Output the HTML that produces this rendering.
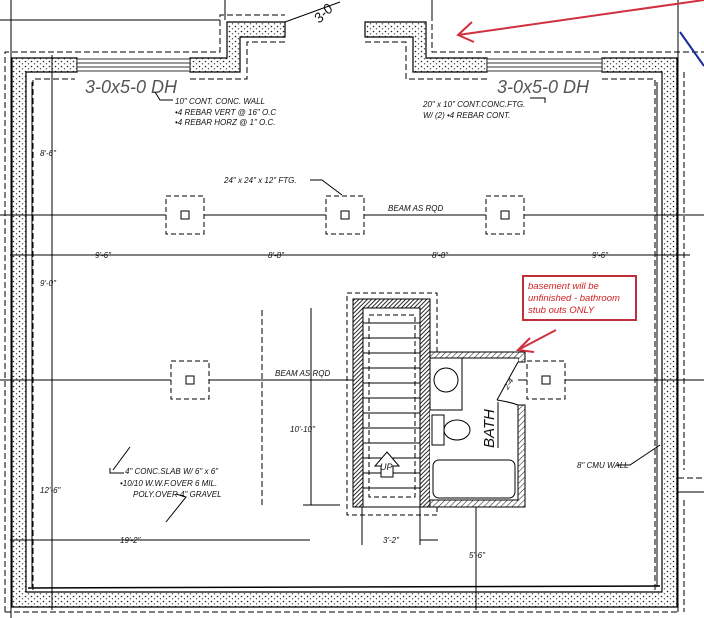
<!DOCTYPE html>
<html><head><style>body{margin:0;background:#fff}svg{display:block}text{font-family:"Liberation Sans",sans-serif;font-style:italic;fill:#111}</style></head>
<body>
<svg width="704" height="618" viewBox="0 0 704 618" xmlns="http://www.w3.org/2000/svg">
<defs>
<pattern id="dots" width="6" height="5" patternUnits="userSpaceOnUse"><rect width="6" height="5" fill="#fff"/><circle cx="1.5" cy="1.5" r="0.8" fill="#222"/><circle cx="4.5" cy="3.8" r="0.7" fill="#444"/></pattern>
<pattern id="hatch" width="3" height="3" patternUnits="userSpaceOnUse" patternTransform="rotate(45)"><rect width="3" height="3" fill="#fff"/><line x1="0" y1="0" x2="0" y2="3" stroke="#111" stroke-width="1.8"/></pattern>
<pattern id="hatch2" width="4" height="4" patternUnits="userSpaceOnUse" patternTransform="rotate(45)"><rect width="4" height="4" fill="#fff"/><line x1="0" y1="0" x2="0" y2="4" stroke="#333" stroke-width="1.2"/></pattern>
</defs>
<g fill="none" stroke="#000" stroke-width="1">
<line x1="11" y1="0" x2="11" y2="618"/>
<line x1="0" y1="20" x2="220" y2="20"/>
<line x1="225" y1="0" x2="225" y2="20"/>
<line x1="678" y1="0" x2="678" y2="612"/>
<line x1="432" y1="0" x2="432" y2="15"/>
<g stroke-dasharray="6,3">
<polyline points="5,612 5,52 220,52 220,15 285,15"/>
<polyline points="432,15 432,52 704,52"/>
<line x1="5" y1="612" x2="678" y2="612"/>
<line x1="684" y1="72" x2="684" y2="470"/>
<line x1="678" y1="478" x2="704" y2="478"/>
<line x1="684" y1="500" x2="684" y2="612"/>
<polyline points="33,590 33,79 75,79"/>
<polyline points="190,79 247,79 247,42 285,42"/>
<polyline points="365,42 406,42 406,79 487,79"/>
<polyline points="602,79 655,79 655,590"/>
</g>
<line x1="678" y1="492" x2="704" y2="492"/>
</g>
<g fill="url(#dots)" stroke="#000" stroke-width="1.2">
<path d="M12,58 H77 V72 H26 V592 H662 V72 H602 V58 H677 V607 H12 Z"/>
<path d="M190,58 H227 V22 H285 V37 H240 V72 H190 Z"/>
<path d="M365,22 H426 V58 H487 V72 H413 V37 H365 Z"/>
</g>
<g stroke="#333" fill="#fff"><rect x="77" y="59" width="113" height="12"/><line x1="77" y1="63" x2="190" y2="63"/><line x1="77" y1="67" x2="190" y2="67"/>
<rect x="487" y="59" width="115" height="12"/><line x1="487" y1="63" x2="602" y2="63"/><line x1="487" y1="67" x2="602" y2="67"/></g>
<line x1="285" y1="22" x2="340" y2="2" stroke="#000"/>
<text x="312" y="22" font-size="14" font-style="normal" fill="#444" transform="rotate(-45 318 14)">3-0</text>
<line x1="28" y1="588" x2="660" y2="586" stroke="#000" stroke-width="1.5"/>
<line x1="32" y1="82" x2="32" y2="587" stroke="#000"/>
<line x1="657" y1="82" x2="657" y2="587" stroke="#000"/>
<g stroke="#000" fill="none">
<line x1="0" y1="215" x2="704" y2="215"/>
<line x1="0" y1="380" x2="704" y2="380"/>
<line x1="10" y1="255" x2="690" y2="255"/>
<line x1="52" y1="55" x2="52" y2="610"/>
<line x1="10" y1="540" x2="310" y2="540"/>
<line x1="420" y1="540" x2="438" y2="540"/>
<line x1="311" y1="308" x2="311" y2="505"/>
<line x1="303" y1="505" x2="340" y2="505"/>
<line x1="476" y1="507" x2="476" y2="610"/>
<line x1="362" y1="507" x2="362" y2="545"/>
<line x1="420" y1="507" x2="420" y2="545"/>
<line x1="262" y1="310" x2="262" y2="505" stroke-dasharray="6,3"/>
</g>
<g fill="#fff" stroke="#000" stroke-dasharray="5,3">
<rect x="166" y="196" width="38" height="38"/><rect x="326" y="196" width="38" height="38"/><rect x="486" y="196" width="38" height="38"/>
<rect x="171" y="361" width="38" height="38"/><rect x="527" y="361" width="38" height="38"/>
</g>
<g fill="#fff" stroke="#000"><rect x="181" y="211" width="8" height="8"/><rect x="341" y="211" width="8" height="8"/><rect x="501" y="211" width="8" height="8"/><rect x="186" y="376" width="8" height="8"/><rect x="542" y="376" width="8" height="8"/></g>
<rect x="347" y="293" width="90" height="222" fill="none" stroke="#000" stroke-dasharray="5,3"/>
<rect x="353" y="299" width="77" height="208" fill="#fff" stroke="#000"/>
<path d="M353,299 H430 V507 H420 V308 H363 V507 H353 Z" fill="url(#hatch)" stroke="#000"/>
<rect x="369" y="315" width="46" height="182" fill="none" stroke="#000" stroke-dasharray="5,3"/>
<g stroke="#000">
<line x1="363" y1="323" x2="420" y2="323"/><line x1="363" y1="338" x2="420" y2="338"/><line x1="363" y1="353" x2="420" y2="353"/><line x1="363" y1="368" x2="420" y2="368"/><line x1="363" y1="383" x2="420" y2="383"/><line x1="363" y1="398" x2="420" y2="398"/><line x1="363" y1="413" x2="420" y2="413"/><line x1="363" y1="428" x2="420" y2="428"/><line x1="363" y1="443" x2="420" y2="443"/><line x1="363" y1="458" x2="420" y2="458"/><line x1="363" y1="473" x2="420" y2="473"/><line x1="363" y1="488" x2="420" y2="488"/>
</g>
<path d="M381,477 V466 H375 L387,452 L399,466 H393 V477 Z" fill="#fff" stroke="#000"/>
<text x="380" y="470" font-size="9">UP</text>
<path d="M430,352 H525 V362 H518 V358 H436 V500 H518 V405 H525 V507 H430 Z" fill="url(#hatch2)" stroke="#000"/>
<rect x="430" y="358" width="88" height="142" fill="#fff" stroke="none"/>
<line x1="430" y1="358" x2="518" y2="358" stroke="#000"/><line x1="430" y1="500" x2="518" y2="500" stroke="#000"/>
<line x1="518" y1="405" x2="518" y2="500" stroke="#000"/>
<rect x="430" y="358" width="32" height="52" fill="#fff" stroke="#000"/>
<circle cx="446" cy="380" r="12" fill="#fff" stroke="#000"/>
<rect x="432" y="415" width="12" height="30" fill="#fff" stroke="#000"/>
<ellipse cx="457" cy="430" rx="13" ry="10" fill="#fff" stroke="#000"/>
<rect x="433" y="460" width="82" height="38" rx="6" fill="#fff" stroke="#000"/>
<path d="M497,400 Q510,402 518,405 M497,400 L518,362" fill="none" stroke="#000"/>
<text x="508" y="390" font-size="8" transform="rotate(-60 508 390)">2-4</text>
<text x="494" y="448" font-size="15" font-style="normal" transform="rotate(-90 494 448)">BATH</text>
<line x1="498" y1="402" x2="498" y2="448" stroke="#000"/>
<rect x="523" y="276" width="113" height="44" fill="#fff" stroke="#c0303a" stroke-width="2"/>
<text font-size="9.5" font-style="normal" style="fill:#d02020"><tspan x="528" y="289">basement will be</tspan><tspan x="528" y="301">unfinished - bathroom</tspan><tspan x="528" y="313">stub outs ONLY</tspan></text>
<g stroke="#d03040" stroke-width="2" fill="none"><line x1="556" y1="330" x2="518" y2="350"/><polyline points="530,338 518,350 534,352"/>
<line x1="704" y1="0" x2="458" y2="35"/><polyline points="472,22 458,35 474,42"/></g>
<line x1="680" y1="32" x2="704" y2="66" stroke="#1a2a9a" stroke-width="2"/>
<text x="85" y="93" font-size="18" style="fill:#555">3-0x5-0 DH</text>
<text x="497" y="93" font-size="18" style="fill:#555">3-0x5-0 DH</text>
<g font-size="8">
<text x="175" y="104">10" CONT. CONC. WALL</text>
<text x="175" y="115">•4 REBAR VERT @ 16" O.C</text>
<text x="175" y="125">•4 REBAR HORZ @ 1" O.C.</text>
<text x="423" y="107">20" x 10" CONT.CONC.FTG.</text>
<text x="423" y="118">W/ (2) •4 REBAR CONT.</text>
<text x="224" y="183">24" x 24" x 12" FTG.</text>
<text x="388" y="211">BEAM AS RQD</text>
<text x="275" y="376">BEAM AS RQD</text>
<text x="40" y="156">8'-6"</text>
<text x="40" y="286">9'-0"</text>
<text x="40" y="493">12'-6"</text>
<text x="95" y="258">9'-6"</text>
<text x="268" y="258">8'-8"</text>
<text x="432" y="258">8'-8"</text>
<text x="592" y="258">9'-6"</text>
<text x="290" y="432">10'-10"</text>
<text x="120" y="543">19'-2"</text>
<text x="383" y="543">3'-2"</text>
<text x="469" y="558">5'-6"</text>
<text x="577" y="468">8" CMU WALL</text>
<text x="125" y="474">4" CONC.SLAB W/ 6" x 6"</text>
<text x="120" y="486">•10/10 W.W.F.OVER 6 MIL.</text>
<text x="133" y="497">POLY.OVER 4" GRAVEL</text>
</g>
<g stroke="#000" fill="none">
<polyline points="155,92 160,100 173,100"/>
<polyline points="530,98 545,98 545,103"/>
<polyline points="310,180 322,180 342,195"/>
<polyline points="617,465 630,465 660,445"/>
<polyline points="124,473 110,473 110,468"/><line x1="113" y1="470" x2="130" y2="447"/>
<polyline points="176,494 186,497 166,522"/>
</g>
</svg>
</body></html>
